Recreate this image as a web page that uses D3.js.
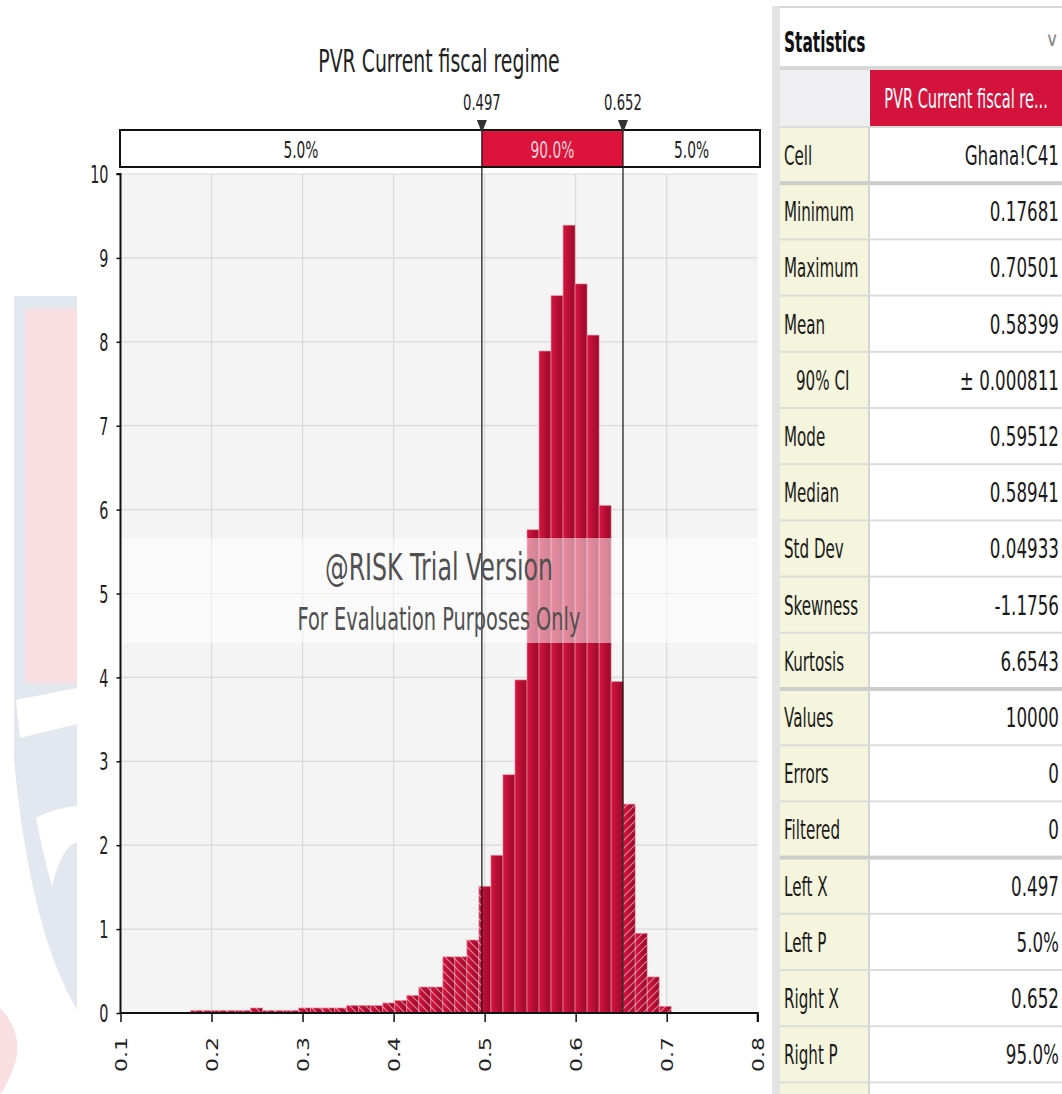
<!DOCTYPE html>
<html>
<head>
<meta charset="utf-8">
<script src="https://cdn.jsdelivr.net/npm/d3@7/dist/d3.min.js"></script>
<style>
  html, body { margin: 0; padding: 0; background: #ffffff; }
  svg { display: block; font-family: "DejaVu Sans", "Noto Sans", sans-serif; }
</style>
</head>
<body>
<svg id="chart" width="1062" height="1094"></svg>
<script>
// ---- data -------------------------------------------------------------
const chartTitle = "PVR Current fiscal regime";
const binStart = 0.17681;            // simulated minimum
const binEnd = 0.70501;              // simulated maximum
const binCount = 40;
// relative frequency (density) of each of the 40 bins
const densities = [
  0.03, 0.03, 0.03, 0.03, 0.03, 0.06, 0.03, 0.03, 0.03, 0.06,
  0.06, 0.06, 0.06, 0.09, 0.09, 0.09, 0.12, 0.15, 0.21, 0.31,
  0.31, 0.67, 0.67, 0.87, 1.51, 1.88, 2.84, 3.97, 5.76, 7.89,
  8.55, 9.39, 8.69, 8.08, 6.05, 3.95, 2.49, 0.95, 0.43, 0.08
];
const leftX = 0.497, rightX = 0.652;
const bandLabels = ["5.0%", "90.0%", "5.0%"];
const xTicks = [0.1, 0.2, 0.3, 0.4, 0.5, 0.6, 0.7, 0.8];
const yTicks = [0, 1, 2, 3, 4, 5, 6, 7, 8, 9, 10];
const statLabels = ["Cell", "Minimum", "Maximum", "Mean", "90% CI", "Mode", "Median",
  "Std Dev", "Skewness", "Kurtosis", "Values", "Errors", "Filtered",
  "Left X", "Left P", "Right X", "Right P"];
const statValues = ["Ghana!C41", "0.17681", "0.70501", "0.58399", "\u00b1 0.000811",
  "0.59512", "0.58941", "0.04933", "-1.1756", "6.6543", "10000", "0", "0",
  "0.497", "5.0%", "0.652", "95.0%"];
const statColumn = "PVR Current fiscal re...";

// ---- helpers -----------------------------------------------------------
const svg = d3.select("#chart");
const CRIMSON = "#dc143c";

function label(parent, x, y, s, o = {}) {
  const g = parent.append("g")
    .attr("transform", `translate(${x},${y}) scale(${o.sx || 0.6},1)` + (o.rot ? ` rotate(${o.rot})` : ""));
  g.append("text")
    .attr("text-anchor", o.anchor || "start")
    .attr("dominant-baseline", o.base || "auto")
    .attr("font-size", o.size || 20)
    .attr("font-weight", o.weight || "normal")
    .attr("fill", o.fill || "#222")
    .text(s);
  return g;
}

// ---- faint crest in the page background --------------------------------
const crest = svg.append("g").attr("opacity", 0.45);
crest.append("path")
  .attr("d", "M14,296 L77,296 L77,1010 Q30,930 14,760 Z")
  .attr("fill", "#c3cbdc");
crest.append("rect").attr("x", 25).attr("y", 309).attr("width", 52).attr("height", 374)
  .attr("fill", "#f2b9bd");
crest.append("path")
  .attr("d", "M16,700 L77,688 L77,724 L20,738 Z").attr("fill", "#ffffff");
crest.append("path")
  .attr("d", "M36,818 Q55,808 77,806 L77,842 Q62,846 52,886 Q42,850 36,818 Z").attr("fill", "#ffffff");
crest.append("path")
  .attr("d", "M0,1008 Q22,1030 16,1060 Q8,1085 0,1094 Z").attr("fill", "#f2b9bd");

// ---- histogram ----------------------------------------------------------
const x = d3.scaleLinear().domain([0.1, 0.8]).range([120.5, 757.7]);
const y = d3.scaleLinear().domain([0, 10]).range([1013, 174]);
const binW = (binEnd - binStart) / binCount;
const bins = densities.map((d, i) => ({ x0: binStart + i * binW, x1: binStart + (i + 1) * binW, v: d }));

const defs = svg.append("defs");
const grad = defs.append("linearGradient").attr("id", "barGrad")
  .attr("x1", "0").attr("x2", "1").attr("y1", "0").attr("y2", "0");
grad.append("stop").attr("offset", "0").attr("stop-color", "#d6143e");
grad.append("stop").attr("offset", "1").attr("stop-color", "#990a2b");

function hatch(id, d) {
  const p = defs.append("pattern").attr("id", id).attr("patternUnits", "userSpaceOnUse")
    .attr("width", 8).attr("height", 8);
  p.append("path").attr("d", d).attr("stroke", "rgba(255,255,255,0.5)").attr("stroke-width", 1.1);
}
hatch("hatchL", "M-2,-2 L10,10 M-2,6 L2,10 M6,-2 L10,2");
hatch("hatchR", "M-2,10 L10,-2 M-2,2 L2,-2 M6,10 L10,6");

defs.append("clipPath").attr("id", "clipL").append("rect")
  .attr("x", x(0.1)).attr("y", y(10)).attr("width", x(leftX) - x(0.1)).attr("height", y(0) - y(10));
defs.append("clipPath").attr("id", "clipR").append("rect")
  .attr("x", x(rightX)).attr("y", y(10)).attr("width", x(0.8) - x(rightX)).attr("height", y(0) - y(10));

// plot background and grid
svg.append("rect").attr("x", x(0.1)).attr("y", y(10))
  .attr("width", x(0.8) - x(0.1)).attr("height", y(0) - y(10)).attr("fill", "#f4f4f4");
svg.append("g").selectAll("line").data(yTicks.slice(1)).join("line")
  .attr("x1", x(0.1)).attr("x2", x(0.8)).attr("y1", d => y(d)).attr("y2", d => y(d))
  .attr("stroke", "#dadada").attr("stroke-width", 1.2);
svg.append("g").selectAll("line").data(xTicks.slice(1, -1)).join("line")
  .attr("x1", d => x(d)).attr("x2", d => x(d)).attr("y1", y(10)).attr("y2", y(0))
  .attr("stroke", "#dadada").attr("stroke-width", 1.2);

// bars
const barG = svg.append("g");
barG.selectAll("rect").data(bins).join("rect")
  .attr("x", d => x(d.x0)).attr("y", d => y(d.v))
  .attr("width", d => x(d.x1) - x(d.x0)).attr("height", d => y(0) - y(d.v))
  .attr("fill", "url(#barGrad)").attr("stroke", "rgba(240,150,165,0.75)").attr("stroke-width", 0.8);
[["clipL", "hatchL"], ["clipR", "hatchR"]].forEach(([clip, pat]) => {
  svg.append("g").attr("clip-path", `url(#${clip})`).selectAll("rect").data(bins).join("rect")
    .attr("x", d => x(d.x0)).attr("y", d => y(d.v))
    .attr("width", d => x(d.x1) - x(d.x0)).attr("height", d => y(0) - y(d.v))
    .attr("fill", `url(#${pat})`);
});

// evaluation band across the plot
svg.append("rect").attr("x", x(0.1)).attr("y", 538).attr("width", x(0.8) - x(0.1)).attr("height", 105)
  .attr("fill", "#ffffff").attr("opacity", 0.5);

// axes
const yAxis = svg.append("g").attr("transform", `translate(${x(0.1)},0)`)
  .call(d3.axisLeft(y).tickValues(yTicks).tickSize(4).tickFormat(d3.format("d")));
const xAxis = svg.append("g").attr("transform", `translate(0,${y(0)})`)
  .call(d3.axisBottom(x).tickValues(xTicks).tickSize(9).tickFormat(d3.format(".1f")));
[yAxis, xAxis].forEach(a => {
  a.select(".domain").attr("stroke", "#111").attr("stroke-width", 2);
  a.selectAll(".tick line").attr("stroke", "#111").attr("stroke-width", 1.5);
});
yAxis.select(".domain").attr("d", `M-4,${y(10)}H0V${y(0)}`);
xAxis.select(".domain").attr("d", `M${x(0.1)},0H${x(0.8)}V9`);
yAxis.selectAll(".tick text")
  .attr("font-family", "DejaVu Sans").attr("font-size", 24).attr("fill", "#222")
  .attr("x", -12 / 0.6).attr("dy", "0.36em").attr("transform", "scale(0.6,1)");
xAxis.selectAll(".tick text")
  .attr("font-family", "DejaVu Sans").attr("font-size", 22).attr("fill", "#222")
  .attr("text-anchor", "end").attr("x", -24).attr("y", 0).attr("dy", "0.36em")
  .attr("transform", "scale(0.7,1) rotate(-90)");

// percentile markers
[leftX, rightX].forEach(v => {
  svg.append("line").attr("x1", x(v)).attr("x2", x(v)).attr("y1", 122).attr("y2", y(0))
    .attr("stroke", "#111").attr("stroke-width", 1.2);
});

// band bar above the plot
const bandG = svg.append("g");
bandG.append("rect").attr("x", 120).attr("y", 130).attr("width", 640).attr("height", 37)
  .attr("fill", "#fff");
bandG.append("rect").attr("x", x(leftX)).attr("y", 130).attr("width", x(rightX) - x(leftX)).attr("height", 37)
  .attr("fill", CRIMSON);
bandG.append("rect").attr("x", 120).attr("y", 130).attr("width", 640).attr("height", 37)
  .attr("fill", "none").attr("stroke", "#111").attr("stroke-width", 2);
[leftX, rightX].forEach(v => {
  bandG.append("line").attr("x1", x(v)).attr("x2", x(v)).attr("y1", 130).attr("y2", 167)
    .attr("stroke", "#111").attr("stroke-width", 1.2);
  bandG.append("path")
    .attr("d", `M${x(v) - 5},120 L${x(v) + 5},120 L${x(v)},133 Z`).attr("fill", "#333");
  label(svg, x(v), 110, d3.format(".3f")(v), { anchor: "middle", size: 22 });
});
const bandCenters = [(120 + x(leftX)) / 2, (x(leftX) + x(rightX)) / 2, (x(rightX) + 760) / 2];
bandLabels.forEach((t, i) => {
  label(svg, bandCenters[i], 158, t, { anchor: "middle", size: 23, fill: i === 1 ? "#f9d3da" : "#222" });
});

// title
label(svg, 439, 72, chartTitle, { anchor: "middle", size: 32, sx: 0.59 });

// evaluation watermark text
label(svg, 439, 580, "@RISK Trial Version", { anchor: "middle", size: 37, sx: 0.64, fill: "#505050" });
label(svg, 439, 630, "For Evaluation Purposes Only", { anchor: "middle", size: 32, sx: 0.605, fill: "#505050" });

// ---- statistics panel ---------------------------------------------------
const P = svg.append("g");
const rowTop = 127, rowH = 56.2, colSplit = 869;
P.append("rect").attr("x", 772).attr("y", 6).attr("width", 8).attr("height", 1088).attr("fill", "#e3e3e3");
P.append("rect").attr("x", 780).attr("y", 6).attr("width", 282).attr("height", 2).attr("fill", "#d6d6d6");
P.append("rect").attr("x", 780).attr("y", 8).attr("width", 282).attr("height", 58).attr("fill", "#fff");
P.append("rect").attr("x", 780).attr("y", 66).attr("width", 282).attr("height", 4).attr("fill", "#d8d8d8");
label(P, 784, 52, "Statistics", { size: 28, weight: "bold", sx: 0.55, fill: "#111" });
label(P, 1052, 46, "\u2228", { anchor: "middle", size: 20, sx: 0.9, fill: "#888" });

P.append("rect").attr("x", 780).attr("y", 70).attr("width", colSplit - 780).attr("height", 56).attr("fill", "#efeff2");
P.append("rect").attr("x", colSplit + 1).attr("y", 70).attr("width", 1062 - colSplit - 1).attr("height", 56).attr("fill", "#d4133d");
label(P, 966, 108, statColumn, { anchor: "middle", size: 26, sx: 0.56, fill: "#fff" });

const rows = statLabels.map((l, i) => ({ l, v: statValues[i], i }));
rows.push({ l: "", v: "", i: rows.length });
const rg = P.selectAll("g.row").data(rows).join("g").attr("class", "row")
  .attr("transform", d => `translate(0,${rowTop + d.i * rowH})`);
rg.append("rect").attr("x", 780).attr("y", 0).attr("width", colSplit - 780).attr("height", rowH)
  .attr("fill", "#f5f4dd");
rg.append("rect").attr("x", colSplit + 1).attr("y", 0).attr("width", 1062 - colSplit - 1).attr("height", rowH)
  .attr("fill", "#fff");
const thick = new Set([1, 10, 13]);
rg.append("rect").attr("x", 780).attr("y", d => thick.has(d.i) ? -2 : -1).attr("width", 282)
  .attr("height", d => thick.has(d.i) ? 4 : 2).attr("fill", d => thick.has(d.i) ? "#cdcdcd" : "#dcdcdc");
rg.append("rect").attr("x", colSplit - 1).attr("y", 0).attr("width", 2).attr("height", rowH).attr("fill", "#d4d4d4");
rg.each(function (d) {
  const g = d3.select(this);
  label(g, d.l === "90% CI" ? 796 : 784, 38, d.l, { size: 27, sx: 0.56, fill: "#1a1a1a" });
  label(g, 1059, 38, d.v, { anchor: "end", size: 27, sx: 0.62, fill: "#1a1a1a" });
});
</script>
</body>
</html>
